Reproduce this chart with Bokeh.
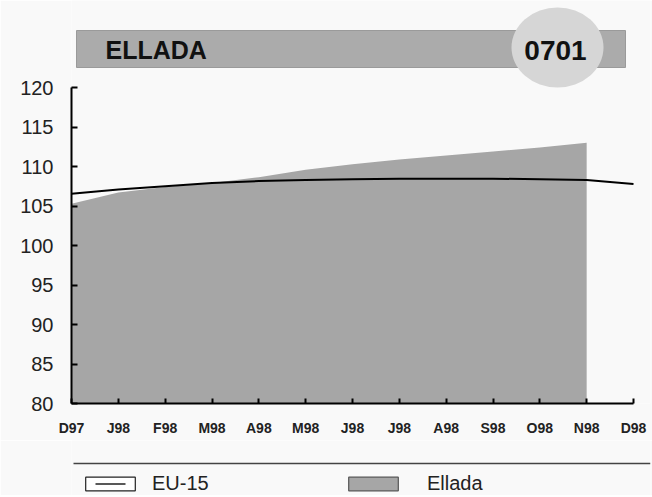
from bokeh.plotting import figure
from bokeh.models import Range1d, FixedTicker, Legend, LegendItem
from bokeh.layouts import column
from bokeh.embed import file_html
from bokeh.resources import INLINE
from bokeh.core.properties import value

# ---- data ----
months = ["D97", "J98", "F98", "M98", "A98", "M98", "J98", "J98", "A98", "S98", "O98", "N98", "D98"]
eu15 = [106.55, 107.1, 107.5, 107.9, 108.15, 108.3, 108.4, 108.45, 108.45, 108.45, 108.4, 108.3, 107.8]
ellada = [105.3, 106.7, 107.4, 107.9, 108.65, 109.6, 110.3, 110.9, 111.4, 111.9, 112.4, 113.0]
y_ticks = [80, 85, 90, 95, 100, 105, 110, 115, 120]
title_text = "ELLADA"
code_text = "0701"
series_names = ["EU-15", "Ellada"]

FONT = "Liberation Sans"
BG = "#f9f9f9"
AREA = "#a6a6a6"

x_eu = list(range(len(eu15)))
x_el = list(range(len(ellada)))

# ---- geometry (pixels) ----
W = 652
FL, FR = 71, 2            # frame left / right border
FW = W - FL - FR          # frame width (579)
FH = 403                  # frame height
PH = 440                  # main figure height
LH = 55                   # legend strip height
px_per_month = 562 / 12.0
y_per_px = 40 / 316.0

# ---- main chart ----
p = figure(width=W, height=PH,
           x_range=Range1d(0, FW / px_per_month),
           y_range=Range1d(80, 120 + 87 * y_per_px),
           output_backend="svg", toolbar_location=None,
           min_border_left=FL, min_border_right=FR, min_border_top=0,
           min_border_bottom=PH - FH)
p.background_fill_color = BG
p.border_fill_color = BG
p.outline_line_color = None
p.xgrid.visible = False
p.ygrid.visible = False

# decoration coordinates in frame pixels
p.extra_x_ranges = {"px": Range1d(0, FW)}
p.extra_y_ranges = {"px": Range1d(FH, 0)}

p.quad(left=[5], right=[554], top=[30], bottom=[67], fill_color="#ababab",
       line_color="#9a9a9a", line_width=1, x_range_name="px", y_range_name="px")
p.ellipse(x=[486], y=[47], width=[92], height=[80], fill_color="#d6d6d6",
          line_color=None, x_range_name="px", y_range_name="px")
p.text(x=[34], y=[49], text=[title_text], text_font=value(FONT), text_font_style="bold",
       text_font_size="25px", text_color="#111", text_align="left", text_baseline="middle",
       x_range_name="px", y_range_name="px")
p.text(x=[484], y=[50], text=[code_text], text_font=value(FONT), text_font_style="bold",
       text_font_size="28px", text_color="#111", text_align="center", text_baseline="middle",
       x_range_name="px", y_range_name="px")

area_r = p.varea(x=x_el, y1=80, y2=ellada, fill_color=AREA)
line_r = p.line(x=x_eu, y=eu15, line_color="black", line_width=2)

p.yaxis.ticker = FixedTicker(ticks=y_ticks)
p.yaxis.bounds = (80, 120)
p.yaxis.major_label_text_font = FONT
p.yaxis.major_label_text_font_size = "20px"
p.yaxis.major_label_text_color = "#222"
p.yaxis.major_label_standoff = 18
p.yaxis.major_tick_in = 6
p.yaxis.major_tick_out = 0
p.yaxis.minor_tick_line_color = None
p.yaxis.axis_line_width = 2
p.yaxis.major_tick_line_width = 2

p.xaxis.ticker = FixedTicker(ticks=list(range(len(months))))
p.xaxis.bounds = (0, len(months) - 1)
p.xaxis.major_label_overrides = {i: m for i, m in enumerate(months)}
p.xaxis.major_label_text_font = FONT
p.xaxis.major_label_text_font_style = "bold"
p.xaxis.major_label_text_font_size = "14px"
p.xaxis.major_label_text_color = "#222"
p.xaxis.major_label_standoff = 16
p.xaxis.major_tick_in = 5
p.xaxis.major_tick_out = 0
p.xaxis.minor_tick_line_color = None
p.xaxis.axis_line_width = 2
p.xaxis.major_tick_line_width = 2

# ---- legend strip (frame aligned with the main frame) ----
q = figure(width=W, height=LH, x_range=Range1d(0, FW), y_range=Range1d(LH, 0),
           output_backend="svg", toolbar_location=None,
           min_border_left=FL, min_border_right=FR, min_border_top=0, min_border_bottom=0)
q.background_fill_color = BG
q.border_fill_color = BG
q.outline_line_color = None
q.axis.visible = False
q.xgrid.visible = False
q.ygrid.visible = False
q.segment(x0=[2], y0=[23], x1=[FW], y1=[23], line_color="#444", line_width=1.5)

# off-screen proxies used only for the legend swatches
box1 = q.rect(x=[-5000], y=[-5000], width=1, height=1, fill_color="white", line_color="#222", line_width=1.2)
ln1 = q.line(x=[-5000, -4999], y=[-5000, -5000], line_color="#222", line_width=1.5,
             line_dash="0 16 30 100")
box2 = q.rect(x=[-5000], y=[-5000], width=1, height=1, fill_color=AREA, line_color="#555", line_width=1.2)

common = dict(orientation="horizontal", glyph_width=62, glyph_height=17, padding=0, margin=0,
              border_line_color=None, background_fill_alpha=0,
              label_text_font=FONT, label_text_font_size="20px", label_text_color="#222")
leg1 = Legend(items=[LegendItem(label=series_names[0], renderers=[box1, ln1])],
              location=(8, 0), label_standoff=11, **common)
leg2 = Legend(items=[LegendItem(label=series_names[1], renderers=[box2])],
              location=(271, 0), label_standoff=23, **common)
q.add_layout(leg1)
q.add_layout(leg2)

layout = column(p, q, spacing=0)
open("out.html", "w").write(file_html(layout, INLINE))
